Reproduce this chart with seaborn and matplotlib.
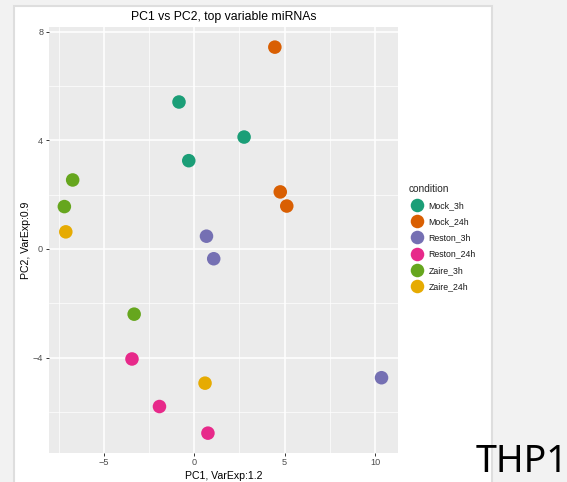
import numpy as np
import pandas as pd
import matplotlib
matplotlib.use("Agg")
import matplotlib.pyplot as plt
from matplotlib.patches import Rectangle
from matplotlib.ticker import MultipleLocator
import seaborn as sns

# PCA scores per sample
conditions = ["Mock_3h", "Mock_3h", "Mock_3h",
              "Mock_24h", "Mock_24h", "Mock_24h",
              "Reston_3h", "Reston_3h", "Reston_3h",
              "Reston_24h", "Reston_24h", "Reston_24h",
              "Zaire_3h", "Zaire_3h", "Zaire_3h",
              "Zaire_24h", "Zaire_24h"]
pc1 = [-0.84, 2.76, -0.30,
       4.46, 4.76, 5.12,
       0.68, 1.08, 10.36,
       -3.44, -1.92, 0.76,
       -6.72, -7.18, -3.32,
       -7.10, 0.60]
pc2 = [5.41, 4.12, 3.25,
       7.43, 2.10, 1.58,
       0.47, -0.36, -4.74,
       -4.05, -5.80, -6.78,
       2.54, 1.56, -2.40,
       0.63, -4.94]
condition_order = ["Mock_3h", "Mock_24h", "Reston_3h", "Reston_24h", "Zaire_3h", "Zaire_24h"]
x_ticks = [-5, 0, 5, 10]
y_ticks = [-4, 0, 4, 8]

df = pd.DataFrame({"PC1": pc1, "PC2": pc2, "condition": conditions})

sns.set_style("white")
plt.rcParams["font.family"] = ["Liberation Sans", "DejaVu Sans"]

W, H = 567, 482
fig = plt.figure(figsize=(W / 100, H / 100), dpi=100)
fig.patch.set_facecolor("#f2f2f2")

# white slide card behind the plot
card = Rectangle((14 / W, -0.01), (492 - 14) / W, (H - 6.5) / H + 0.01, transform=fig.transFigure,
                 facecolor="white", edgecolor="#dedede", linewidth=1.5, zorder=-10)
fig.add_artist(card)

ax = fig.add_axes([48.8 / W, 29.3 / H, (397.8 - 48.8) / W, (452.7 - 27.3) / H])
ax.set_zorder(1)
ax.set_facecolor("#ebebeb")

palette = dict(zip(condition_order, sns.color_palette("Dark2", 6)))
sns.scatterplot(data=df, x="PC1", y="PC2", hue="condition", hue_order=condition_order,
                palette=palette, s=95, linewidth=0, ax=ax, zorder=3)

ax.set_xlim(-8.04, 11.26)
ax.set_ylim(-7.50, 8.16)
ax.set_xticks(x_ticks)
ax.set_yticks(y_ticks)
ax.set_xticklabels(["\u22125", "0", "5", "10"])
ax.set_yticklabels(["\u22124", "0", "4", "8"])
ax.xaxis.set_minor_locator(MultipleLocator(2.5))
ax.yaxis.set_minor_locator(MultipleLocator(2.0))
ax.grid(which="major", color="white", linewidth=1.1, zorder=0)
ax.grid(which="minor", color="white", linewidth=0.5, zorder=0)
ax.set_axisbelow(True)
for sp in ax.spines.values():
    sp.set_visible(False)
ax.tick_params(which="major", length=2.5, width=0.7, color="#333333",
               labelsize=6.6, labelcolor="#4d4d4d", pad=1.5, bottom=True, left=True)
ax.tick_params(which="minor", length=0)

ax.set_xlabel("PC1, VarExp:1.2", fontsize=7.6, color="black", labelpad=3)
ax.set_ylabel("PC2, VarExp:0.9", fontsize=7.6, color="black", labelpad=1)
ax.set_title("PC1 vs PC2, top variable miRNAs", fontsize=8.8, color="black", pad=5)

leg = ax.legend(title="condition", loc="upper left", bbox_to_anchor=(1.021, 0.64),
                frameon=False, fontsize=6.3, title_fontsize=7.3, markerscale=1.0,
                handletextpad=0.25, labelspacing=0.82, borderaxespad=0)
leg._legend_box.align = "left"
for t in leg.get_texts():
    t.set_color("#1a1a1a")

fig.text(568 / W, 10 / H, "THP1", ha="right", va="baseline", fontsize=27,
         family="Noto Sans", color="black")

fig.savefig("out.png", dpi=100, facecolor=fig.get_facecolor())
